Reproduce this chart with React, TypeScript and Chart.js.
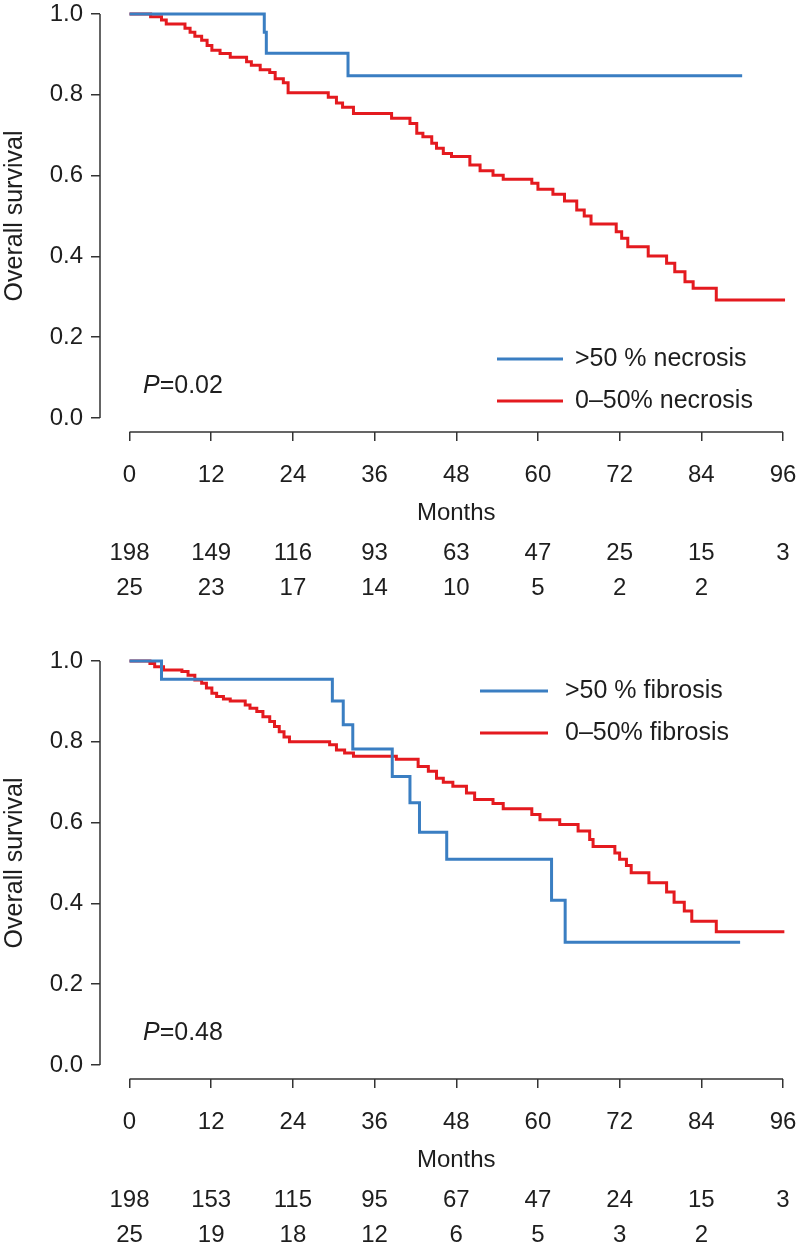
import React, { useEffect, useRef } from 'react';
import { Chart, registerables } from 'chart.js';

Chart.register(...registerables);

const FONT = '"Liberation Sans", Arial, Helvetica, sans-serif';
const BLUE = '#3a7ec2';
const RED = '#e41a1f';
const INK = '#1e1e1e';
const AXIS = '#333333';

// x ticks (months) and y ticks (survival)
const monthTicks = [0, 12, 24, 36, 48, 60, 72, 84, 96];
const survivalTicks = [0, 0.2, 0.4, 0.6, 0.8, 1.0];

// ---- Panel 1: necrosis ----
const necrosisHigh: [number, number][] = [
  [0, 1], [19.8, 0.955], [20.1, 0.903], [32.1, 0.847], [90, 0.847],
];
const necrosisLow: [number, number][] = [
  [0, 1], [3.1, 0.993], [4.7, 0.985], [5.4, 0.975], [8.15, 0.965], [8.9, 0.955],
  [9.6, 0.945], [10.6, 0.935], [11.4, 0.922], [12.1, 0.91], [13.3, 0.902],
  [14.8, 0.893], [17.2, 0.882], [17.9, 0.873], [19.2, 0.862], [20.6, 0.855],
  [21.4, 0.84], [22.6, 0.83], [23.3, 0.805], [29.2, 0.794], [30.4, 0.78],
  [31.3, 0.769], [32.9, 0.754], [38.5, 0.742], [41.2, 0.729], [42.2, 0.705],
  [43.1, 0.696], [44.4, 0.68], [45.1, 0.668], [46.1, 0.655], [47.3, 0.647],
  [50.0, 0.626], [51.5, 0.612], [53.4, 0.601], [54.9, 0.591], [59.1, 0.581],
  [60.0, 0.566], [62.2, 0.554], [63.9, 0.537], [65.7, 0.515], [66.8, 0.5],
  [67.8, 0.48], [71.5, 0.461], [72.3, 0.445], [73.2, 0.424], [76.2, 0.401],
  [78.9, 0.383], [80.1, 0.362], [81.6, 0.337], [82.8, 0.321], [86.2, 0.292],
  [96.3, 0.292],
];
const necrosisLowAtRisk = [198, 149, 116, 93, 63, 47, 25, 15, 3];
const necrosisHighAtRisk = [25, 23, 17, 14, 10, 5, 2, 2];
const necrosisLabels = ['>50 % necrosis', '0\u201350% necrosis'];
const necrosisP = '0.02';

// ---- Panel 2: fibrosis ----
const fibrosisHigh: [number, number][] = [
  [0, 1], [4.7, 0.955], [29.8, 0.901], [31.4, 0.842], [32.8, 0.782],
  [38.6, 0.714], [41.2, 0.649], [42.6, 0.576], [46.6, 0.509], [62.0, 0.408],
  [64.0, 0.304], [89.7, 0.304],
];
const fibrosisLow: [number, number][] = [
  [0, 1], [3.0, 0.994], [3.7, 0.986], [5.0, 0.978], [7.7, 0.974], [8.6, 0.965],
  [9.6, 0.953], [10.6, 0.945], [11.3, 0.933], [12.1, 0.92], [12.8, 0.912],
  [13.8, 0.906], [14.8, 0.901], [17.0, 0.891], [17.7, 0.883], [18.7, 0.875],
  [19.6, 0.862], [20.6, 0.85], [21.3, 0.838], [22.0, 0.825], [22.7, 0.812],
  [23.5, 0.8], [29.4, 0.793], [30.4, 0.78], [31.6, 0.772], [32.9, 0.764],
  [39.2, 0.757], [42.4, 0.739], [43.9, 0.727], [45.1, 0.71], [46.1, 0.7],
  [47.5, 0.69], [49.5, 0.673], [50.7, 0.657], [53.4, 0.647], [54.9, 0.634],
  [59.1, 0.62], [60.3, 0.607], [63.2, 0.595], [65.9, 0.579], [67.6, 0.558],
  [68.1, 0.541], [71.3, 0.525], [72.0, 0.509], [73.0, 0.494], [73.7, 0.476],
  [76.3, 0.451], [78.9, 0.428], [80.0, 0.403], [81.5, 0.381], [82.6, 0.356],
  [86.2, 0.33], [96.2, 0.33],
];
const fibrosisLowAtRisk = [198, 153, 115, 95, 67, 47, 24, 15, 3];
const fibrosisHighAtRisk = [25, 19, 18, 12, 6, 5, 3, 2];
const fibrosisLabels = ['>50 % fibrosis', '0\u201350% fibrosis'];
const fibrosisP = '0.48';

type PanelProps = {
  high: [number, number][];
  low: [number, number][];
  labels: string[];
  atRiskLow: number[];
  atRiskHigh: number[];
  pValue: string;
  plotTop: number;
  legendLineX: number;
  legendLineW: number;
  legendTextX: number;
  legendY: number;
};

const W = 798;
const H = 627;
const AREA_LEFT = 100;
const AREA_RIGHT = 783;
const X0_PX = 129.5;

function KMPanel(props: PanelProps) {
  const ref = useRef<HTMLCanvasElement>(null);
  useEffect(() => {
    const canvas = ref.current;
    if (!canvas) return;
    const { high, low, labels, atRiskLow, atRiskHigh, pValue, plotTop, legendLineX, legendLineW, legendTextX, legendY } = props;
    const plotH = 404;
    const plotBottom = plotTop + 418;
    const yMin = -14 / plotH;
    const pxPerMonth = (AREA_RIGHT - X0_PX) / 96;
    const xMin = -(X0_PX - AREA_LEFT) / pxPerMonth;

    const annotate = {
      id: 'kmAnnotate',
      afterDraw(chart: any) {
        const ctx = chart.ctx as CanvasRenderingContext2D;
        const xs = chart.scales.x;
        const ys = chart.scales.y;
        const area = chart.chartArea;
        ctx.save();
        // axis lines (R style, detached)
        ctx.strokeStyle = AXIS;
        ctx.lineWidth = 1.5;
        ctx.beginPath();
        ctx.moveTo(xs.getPixelForValue(0), area.bottom);
        ctx.lineTo(xs.getPixelForValue(96), area.bottom);
        ctx.moveTo(area.left, ys.getPixelForValue(0));
        ctx.lineTo(area.left, ys.getPixelForValue(1));
        ctx.stroke();

        ctx.fillStyle = INK;
        // y title
        ctx.save();
        ctx.translate(15, ys.getPixelForValue(0.5));
        ctx.rotate(-Math.PI / 2);
        ctx.font = `25px ${FONT}`;
        ctx.textAlign = 'center';
        ctx.textBaseline = 'middle';
        ctx.fillText('Overall survival', 0, 0);
        ctx.restore();

        // Months label
        ctx.font = `24px ${FONT}`;
        ctx.textAlign = 'center';
        ctx.textBaseline = 'middle';
        ctx.fillText('Months', xs.getPixelForValue(48), area.bottom + 81);

        // numbers at risk
        atRiskLow.forEach((n, i) => {
          ctx.fillText(String(n), xs.getPixelForValue(monthTicks[i]), area.bottom + 121);
        });
        atRiskHigh.forEach((n, i) => {
          ctx.fillText(String(n), xs.getPixelForValue(monthTicks[i]), area.bottom + 156);
        });

        // P value
        const pY = ys.getPixelForValue(0) - 32;
        ctx.textAlign = 'left';
        ctx.font = `italic 25px ${FONT}`;
        ctx.fillText('P', 143, pY);
        const pw = ctx.measureText('P').width;
        ctx.font = `25px ${FONT}`;
        ctx.fillText('=' + pValue, 143 + pw, pY);

        // legend
        const colors = [BLUE, RED];
        labels.forEach((lab, i) => {
          const y = legendY + i * 42;
          ctx.strokeStyle = colors[i];
          ctx.lineWidth = 3;
          ctx.beginPath();
          ctx.moveTo(legendLineX, y);
          ctx.lineTo(legendLineX + legendLineW, y);
          ctx.stroke();
          ctx.fillStyle = INK;
          ctx.font = `25px ${FONT}`;
          ctx.textAlign = 'left';
          ctx.fillText(lab, legendTextX, y);
        });
        ctx.restore();
      },
    };

    const chart = new Chart(canvas, {
      type: 'line',
      data: {
        datasets: [
          {
            label: labels[0],
            data: high.map(([x, y]) => ({ x, y })),
            borderColor: BLUE,
            borderWidth: 3,
            pointRadius: 0,
            fill: false,
            stepped: 'before',
            clip: 6,
          },
          {
            label: labels[1],
            data: low.map(([x, y]) => ({ x, y })),
            borderColor: RED,
            borderWidth: 3,
            pointRadius: 0,
            fill: false,
            stepped: 'before',
            clip: 6,
          },
        ],
      },
      options: {
        responsive: false,
        animation: false,
        devicePixelRatio: 1,
        layout: { padding: { top: plotTop, left: 0, right: W - AREA_RIGHT, bottom: 0 } },
        plugins: { legend: { display: false }, tooltip: { enabled: false } },
        scales: {
          x: {
            type: 'linear',
            min: xMin,
            max: 96,
            afterBuildTicks: (s: any) => {
              s.ticks = monthTicks.map((v) => ({ value: v }));
            },
            afterFit: (s: any) => {
              s.height = H - plotBottom;
              s.paddingLeft = 0;
              s.paddingRight = 0;
            },
            grid: { drawOnChartArea: false, drawTicks: true, tickLength: 9, color: AXIS, lineWidth: 1.5 },
            border: { display: false },
            ticks: {
              autoSkip: false,
              maxRotation: 0,
              padding: 20,
              color: INK,
              font: { family: FONT, size: 24 },
              callback: (v: any) => String(v),
            },
          },
          y: {
            type: 'linear',
            min: yMin,
            max: 1,
            afterBuildTicks: (s: any) => {
              s.ticks = survivalTicks.map((v) => ({ value: v }));
            },
            afterFit: (s: any) => {
              s.width = AREA_LEFT;
              s.paddingTop = 0;
              s.paddingBottom = 0;
            },
            grid: { drawOnChartArea: false, drawTicks: true, tickLength: 9, color: AXIS, lineWidth: 1.5 },
            border: { display: false },
            ticks: {
              padding: 8,
              color: INK,
              font: { family: FONT, size: 24 },
              callback: (v: any) => Number(v).toFixed(1),
            },
          },
        },
      },
      plugins: [annotate],
    } as any);
    return () => chart.destroy();
  }, []);
  return <canvas ref={ref} width={W} height={H} style={{ display: 'block', width: W, height: H }} />;
}

export default function App() {
  return (
    <div style={{ position: 'absolute', left: 0, top: 0, width: W, height: 2 * H, background: '#fff' }}>
      <KMPanel
        high={necrosisHigh}
        low={necrosisLow}
        labels={necrosisLabels}
        atRiskLow={necrosisLowAtRisk}
        atRiskHigh={necrosisHighAtRisk}
        pValue={necrosisP}
        plotTop={14}
        legendLineX={497}
        legendLineW={66}
        legendTextX={575}
        legendY={359}
      />
      <KMPanel
        high={fibrosisHigh}
        low={fibrosisLow}
        labels={fibrosisLabels}
        atRiskLow={fibrosisLowAtRisk}
        atRiskHigh={fibrosisHighAtRisk}
        pValue={fibrosisP}
        plotTop={34}
        legendLineX={480}
        legendLineW={68}
        legendTextX={565}
        legendY={64}
      />
    </div>
  );
}
